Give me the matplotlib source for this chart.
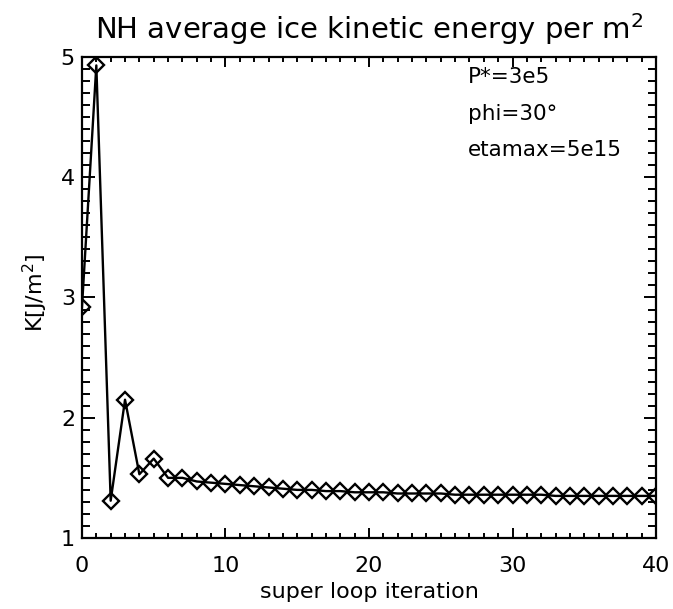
import numpy as np
import matplotlib
matplotlib.use("Agg")
import matplotlib.pyplot as plt
from matplotlib.ticker import MultipleLocator

# super loop iteration vs average kinetic energy
iteration = list(range(0, 41))
energy = [2.92, 4.93, 1.31, 2.15, 1.53, 1.66, 1.50, 1.50, 1.47, 1.46,
          1.45, 1.44, 1.43, 1.42, 1.41, 1.40, 1.40, 1.39, 1.39, 1.38,
          1.38, 1.38, 1.37, 1.37, 1.37, 1.37, 1.36, 1.36, 1.36, 1.36,
          1.36, 1.36, 1.36, 1.35, 1.35, 1.35, 1.35, 1.35, 1.35, 1.35,
          1.35]

notes = ["P*=3e5", "phi=30°", "etamax=5e15"]

fig = plt.figure(figsize=(6.73, 6.09), dpi=100)
ax = fig.add_axes([0.1218, 0.1166, 0.853, 0.7898])

ax.plot(iteration, energy, color="black", lw=1.7, marker="D", ms=8,
        mfc="none", mec="black", mew=1.7)

ax.set_xlim(0, 40)
ax.set_ylim(1, 5)
ax.xaxis.set_major_locator(MultipleLocator(10))
ax.xaxis.set_minor_locator(MultipleLocator(1))
ax.yaxis.set_major_locator(MultipleLocator(1))
ax.yaxis.set_minor_locator(MultipleLocator(0.1))
ax.tick_params(which="both", direction="in", top=True, right=True,
               width=1.4, labelsize=16)
ax.tick_params(axis="x", which="major", length=7.5, pad=13)
ax.tick_params(axis="x", which="minor", length=3.8)
ax.tick_params(axis="y", which="major", length=9, pad=5)
ax.tick_params(axis="y", which="minor", length=5.5)
for s in ax.spines.values():
    s.set_linewidth(1.6)

ax.set_title("NH average ice kinetic energy per m$^2$", fontsize=21, pad=13)
ax.set_xlabel("super loop iteration", fontsize=16, labelpad=4)
ax.set_ylabel("K[J/m$^2$]", fontsize=16)
ax.yaxis.set_label_coords(-0.056, 0.51)

for i, t in enumerate(notes):
    ax.text(0.672, 0.979 - i * 0.076, t, transform=ax.transAxes,
            fontsize=15.5, va="top", ha="left")

fig.savefig("out.png", dpi=100)
